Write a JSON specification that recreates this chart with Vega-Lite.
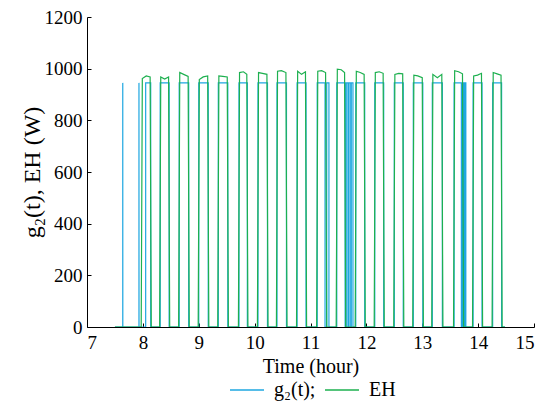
{
  "$schema": "https://vega.github.io/schema/vega-lite/v6.json",
  "width": 447,
  "height": 310,
  "autosize": {"type": "none"},
  "padding": {"left": 87, "top": 17, "right": 12, "bottom": 79},
  "background": "white",
  "config": {
    "view": {"stroke": null},
    "axis": {
      "domainColor": "black",
      "tickColor": "black",
      "labelColor": "black",
      "titleColor": "black",
      "labelFont": "Liberation Serif",
      "titleFont": "Liberation Serif",
      "labelFontSize": 19,
      "titleFontSize": 20,
      "titleFontWeight": "normal",
      "grid": false,
      "tickSize": -4
    },
    "legend": {
      "labelFont": "Liberation Serif",
      "labelFontSize": 20,
      "labelColor": "black"
    }
  },
  "data": {
    "values": [
      {"s": "g₂(t);", "t": 7.5, "p": 0},
      {"s": "g₂(t);", "t": 7.64, "p": 0}, {"s": "g₂(t);", "t": 7.64, "p": 945}, {"s": "g₂(t);", "t": 7.641, "p": 0},
      {"s": "g₂(t);", "t": 7.93, "p": 0}, {"s": "g₂(t);", "t": 7.93, "p": 945}, {"s": "g₂(t);", "t": 7.931, "p": 0},
      {"s": "g₂(t);", "t": 8.05, "p": 0}, {"s": "g₂(t);", "t": 8.05, "p": 945}, {"s": "g₂(t);", "t": 8.14, "p": 945}, {"s": "g₂(t);", "t": 8.14, "p": 0},
      {"s": "g₂(t);", "t": 8.31, "p": 0}, {"s": "g₂(t);", "t": 8.31, "p": 945}, {"s": "g₂(t);", "t": 8.47, "p": 945}, {"s": "g₂(t);", "t": 8.47, "p": 0},
      {"s": "g₂(t);", "t": 8.65, "p": 0}, {"s": "g₂(t);", "t": 8.65, "p": 945}, {"s": "g₂(t);", "t": 8.82, "p": 945}, {"s": "g₂(t);", "t": 8.82, "p": 0},
      {"s": "g₂(t);", "t": 9.0, "p": 0}, {"s": "g₂(t);", "t": 9.0, "p": 945}, {"s": "g₂(t);", "t": 9.17, "p": 945}, {"s": "g₂(t);", "t": 9.17, "p": 0},
      {"s": "g₂(t);", "t": 9.35, "p": 0}, {"s": "g₂(t);", "t": 9.35, "p": 945}, {"s": "g₂(t);", "t": 9.52, "p": 945}, {"s": "g₂(t);", "t": 9.52, "p": 0},
      {"s": "g₂(t);", "t": 9.72, "p": 0}, {"s": "g₂(t);", "t": 9.72, "p": 945}, {"s": "g₂(t);", "t": 9.87, "p": 945}, {"s": "g₂(t);", "t": 9.87, "p": 0},
      {"s": "g₂(t);", "t": 10.06, "p": 0}, {"s": "g₂(t);", "t": 10.06, "p": 945}, {"s": "g₂(t);", "t": 10.23, "p": 945}, {"s": "g₂(t);", "t": 10.23, "p": 0},
      {"s": "g₂(t);", "t": 10.4, "p": 0}, {"s": "g₂(t);", "t": 10.4, "p": 945}, {"s": "g₂(t);", "t": 10.57, "p": 945}, {"s": "g₂(t);", "t": 10.57, "p": 0},
      {"s": "g₂(t);", "t": 10.76, "p": 0}, {"s": "g₂(t);", "t": 10.76, "p": 945}, {"s": "g₂(t);", "t": 10.92, "p": 945}, {"s": "g₂(t);", "t": 10.92, "p": 0},
      {"s": "g₂(t);", "t": 11.12, "p": 0}, {"s": "g₂(t);", "t": 11.12, "p": 945}, {"s": "g₂(t);", "t": 11.26, "p": 945}, {"s": "g₂(t);", "t": 11.26, "p": 0},
      {"s": "g₂(t);", "t": 11.29, "p": 0}, {"s": "g₂(t);", "t": 11.29, "p": 945}, {"s": "g₂(t);", "t": 11.33, "p": 945}, {"s": "g₂(t);", "t": 11.33, "p": 0},
      {"s": "g₂(t);", "t": 11.47, "p": 0}, {"s": "g₂(t);", "t": 11.47, "p": 945}, {"s": "g₂(t);", "t": 11.62, "p": 945}, {"s": "g₂(t);", "t": 11.62, "p": 0},
      {"s": "g₂(t);", "t": 11.64, "p": 0}, {"s": "g₂(t);", "t": 11.64, "p": 945}, {"s": "g₂(t);", "t": 11.67, "p": 945}, {"s": "g₂(t);", "t": 11.67, "p": 0},
      {"s": "g₂(t);", "t": 11.69, "p": 0}, {"s": "g₂(t);", "t": 11.69, "p": 945}, {"s": "g₂(t);", "t": 11.72, "p": 945}, {"s": "g₂(t);", "t": 11.72, "p": 0},
      {"s": "g₂(t);", "t": 11.73, "p": 0}, {"s": "g₂(t);", "t": 11.73, "p": 945}, {"s": "g₂(t);", "t": 11.76, "p": 945}, {"s": "g₂(t);", "t": 11.76, "p": 0},
      {"s": "g₂(t);", "t": 11.81, "p": 0}, {"s": "g₂(t);", "t": 11.81, "p": 945}, {"s": "g₂(t);", "t": 11.97, "p": 945}, {"s": "g₂(t);", "t": 11.97, "p": 0},
      {"s": "g₂(t);", "t": 12.15, "p": 0}, {"s": "g₂(t);", "t": 12.15, "p": 945}, {"s": "g₂(t);", "t": 12.31, "p": 945}, {"s": "g₂(t);", "t": 12.31, "p": 0},
      {"s": "g₂(t);", "t": 12.5, "p": 0}, {"s": "g₂(t);", "t": 12.5, "p": 945}, {"s": "g₂(t);", "t": 12.66, "p": 945}, {"s": "g₂(t);", "t": 12.66, "p": 0},
      {"s": "g₂(t);", "t": 12.84, "p": 0}, {"s": "g₂(t);", "t": 12.84, "p": 945}, {"s": "g₂(t);", "t": 13.01, "p": 945}, {"s": "g₂(t);", "t": 13.01, "p": 0},
      {"s": "g₂(t);", "t": 13.18, "p": 0}, {"s": "g₂(t);", "t": 13.18, "p": 945}, {"s": "g₂(t);", "t": 13.36, "p": 945}, {"s": "g₂(t);", "t": 13.36, "p": 0},
      {"s": "g₂(t);", "t": 13.57, "p": 0}, {"s": "g₂(t);", "t": 13.57, "p": 945}, {"s": "g₂(t);", "t": 13.7, "p": 945}, {"s": "g₂(t);", "t": 13.7, "p": 0},
      {"s": "g₂(t);", "t": 13.71, "p": 0}, {"s": "g₂(t);", "t": 13.71, "p": 945}, {"s": "g₂(t);", "t": 13.73, "p": 945}, {"s": "g₂(t);", "t": 13.73, "p": 0},
      {"s": "g₂(t);", "t": 13.74, "p": 0}, {"s": "g₂(t);", "t": 13.74, "p": 945}, {"s": "g₂(t);", "t": 13.76, "p": 945}, {"s": "g₂(t);", "t": 13.76, "p": 0},
      {"s": "g₂(t);", "t": 13.765, "p": 0}, {"s": "g₂(t);", "t": 13.765, "p": 945}, {"s": "g₂(t);", "t": 13.78, "p": 945}, {"s": "g₂(t);", "t": 13.78, "p": 0},
      {"s": "g₂(t);", "t": 13.91, "p": 0}, {"s": "g₂(t);", "t": 13.91, "p": 945}, {"s": "g₂(t);", "t": 14.07, "p": 945}, {"s": "g₂(t);", "t": 14.07, "p": 0},
      {"s": "g₂(t);", "t": 14.26, "p": 0}, {"s": "g₂(t);", "t": 14.26, "p": 945}, {"s": "g₂(t);", "t": 14.42, "p": 945}, {"s": "g₂(t);", "t": 14.42, "p": 0},
      {"s": "g₂(t);", "t": 14.48, "p": 0},

      {"s": "EH", "t": 7.5, "p": 0},
      {"s": "EH", "t": 7.97, "p": 0}, {"s": "EH", "t": 7.99, "p": 962}, {"s": "EH", "t": 8.06, "p": 972}, {"s": "EH", "t": 8.13, "p": 968}, {"s": "EH", "t": 8.15, "p": 0},
      {"s": "EH", "t": 8.3, "p": 0}, {"s": "EH", "t": 8.32, "p": 968}, {"s": "EH", "t": 8.39, "p": 960}, {"s": "EH", "t": 8.46, "p": 968}, {"s": "EH", "t": 8.48, "p": 0},
      {"s": "EH", "t": 8.64, "p": 0}, {"s": "EH", "t": 8.66, "p": 985}, {"s": "EH", "t": 8.73, "p": 978}, {"s": "EH", "t": 8.81, "p": 970}, {"s": "EH", "t": 8.83, "p": 0},
      {"s": "EH", "t": 8.99, "p": 0}, {"s": "EH", "t": 9.01, "p": 958}, {"s": "EH", "t": 9.08, "p": 968}, {"s": "EH", "t": 9.16, "p": 972}, {"s": "EH", "t": 9.18, "p": 0},
      {"s": "EH", "t": 9.34, "p": 0}, {"s": "EH", "t": 9.36, "p": 972}, {"s": "EH", "t": 9.43, "p": 970}, {"s": "EH", "t": 9.51, "p": 968}, {"s": "EH", "t": 9.53, "p": 0},
      {"s": "EH", "t": 9.71, "p": 0}, {"s": "EH", "t": 9.73, "p": 985}, {"s": "EH", "t": 9.8, "p": 988}, {"s": "EH", "t": 9.86, "p": 978}, {"s": "EH", "t": 9.88, "p": 0},
      {"s": "EH", "t": 10.05, "p": 0}, {"s": "EH", "t": 10.07, "p": 985}, {"s": "EH", "t": 10.14, "p": 982}, {"s": "EH", "t": 10.22, "p": 978}, {"s": "EH", "t": 10.24, "p": 0},
      {"s": "EH", "t": 10.39, "p": 0}, {"s": "EH", "t": 10.41, "p": 990}, {"s": "EH", "t": 10.48, "p": 992}, {"s": "EH", "t": 10.56, "p": 985}, {"s": "EH", "t": 10.58, "p": 0},
      {"s": "EH", "t": 10.75, "p": 0}, {"s": "EH", "t": 10.77, "p": 990}, {"s": "EH", "t": 10.84, "p": 978}, {"s": "EH", "t": 10.91, "p": 988}, {"s": "EH", "t": 10.93, "p": 0},
      {"s": "EH", "t": 11.11, "p": 0}, {"s": "EH", "t": 11.13, "p": 990}, {"s": "EH", "t": 11.2, "p": 992}, {"s": "EH", "t": 11.27, "p": 985}, {"s": "EH", "t": 11.29, "p": 0},
      {"s": "EH", "t": 11.46, "p": 0}, {"s": "EH", "t": 11.48, "p": 998}, {"s": "EH", "t": 11.55, "p": 996}, {"s": "EH", "t": 11.61, "p": 985}, {"s": "EH", "t": 11.63, "p": 0},
      {"s": "EH", "t": 11.8, "p": 0}, {"s": "EH", "t": 11.82, "p": 990}, {"s": "EH", "t": 11.89, "p": 985}, {"s": "EH", "t": 11.96, "p": 978}, {"s": "EH", "t": 11.98, "p": 0},
      {"s": "EH", "t": 12.14, "p": 0}, {"s": "EH", "t": 12.16, "p": 985}, {"s": "EH", "t": 12.23, "p": 988}, {"s": "EH", "t": 12.3, "p": 982}, {"s": "EH", "t": 12.32, "p": 0},
      {"s": "EH", "t": 12.49, "p": 0}, {"s": "EH", "t": 12.51, "p": 978}, {"s": "EH", "t": 12.58, "p": 982}, {"s": "EH", "t": 12.65, "p": 980}, {"s": "EH", "t": 12.67, "p": 0},
      {"s": "EH", "t": 12.83, "p": 0}, {"s": "EH", "t": 12.85, "p": 975}, {"s": "EH", "t": 12.92, "p": 972}, {"s": "EH", "t": 13.0, "p": 965}, {"s": "EH", "t": 13.02, "p": 0},
      {"s": "EH", "t": 13.17, "p": 0}, {"s": "EH", "t": 13.19, "p": 978}, {"s": "EH", "t": 13.27, "p": 965}, {"s": "EH", "t": 13.35, "p": 978}, {"s": "EH", "t": 13.37, "p": 0},
      {"s": "EH", "t": 13.56, "p": 0}, {"s": "EH", "t": 13.58, "p": 992}, {"s": "EH", "t": 13.65, "p": 988}, {"s": "EH", "t": 13.72, "p": 980}, {"s": "EH", "t": 13.74, "p": 0},
      {"s": "EH", "t": 13.9, "p": 0}, {"s": "EH", "t": 13.92, "p": 972}, {"s": "EH", "t": 13.99, "p": 975}, {"s": "EH", "t": 14.06, "p": 982}, {"s": "EH", "t": 14.08, "p": 0},
      {"s": "EH", "t": 14.25, "p": 0}, {"s": "EH", "t": 14.27, "p": 985}, {"s": "EH", "t": 14.34, "p": 980}, {"s": "EH", "t": 14.41, "p": 975}, {"s": "EH", "t": 14.43, "p": 0},
      {"s": "EH", "t": 14.48, "p": 0}
    ]
  },
  "mark": {"type": "line", "strokeWidth": 1.2, "clip": true},
  "encoding": {
    "x": {
      "field": "t", "type": "quantitative",
      "scale": {"domain": [7, 15], "nice": false, "zero": false},
      "axis": {"values": [7, 8, 9, 10, 11, 12, 13, 14, 15], "format": "d", "title": "Time (hour)", "labelPadding": 10, "titlePadding": 4}
    },
    "y": {
      "field": "p", "type": "quantitative",
      "scale": {"domain": [0, 1200], "nice": false},
      "axis": {"values": [0, 200, 400, 600, 800, 1000, 1200], "format": "d", "title": "g₂(t), EH (W)", "titleFontSize": 24, "labelPadding": 9, "titlePadding": 0}
    },
    "color": {
      "field": "s", "type": "nominal",
      "scale": {"domain": ["g₂(t);", "EH"], "range": ["#1ea7e1", "#1db04f"]},
      "legend": {
        "title": null, "orient": "none", "direction": "horizontal",
        "legendX": 142, "legendY": 355,
        "symbolType": "stroke", "symbolSize": 1156, "symbolStrokeWidth": 1.5,
        "labelOffset": 9, "columnPadding": 6
      }
    },
    "order": {"value": null}
  }
}
